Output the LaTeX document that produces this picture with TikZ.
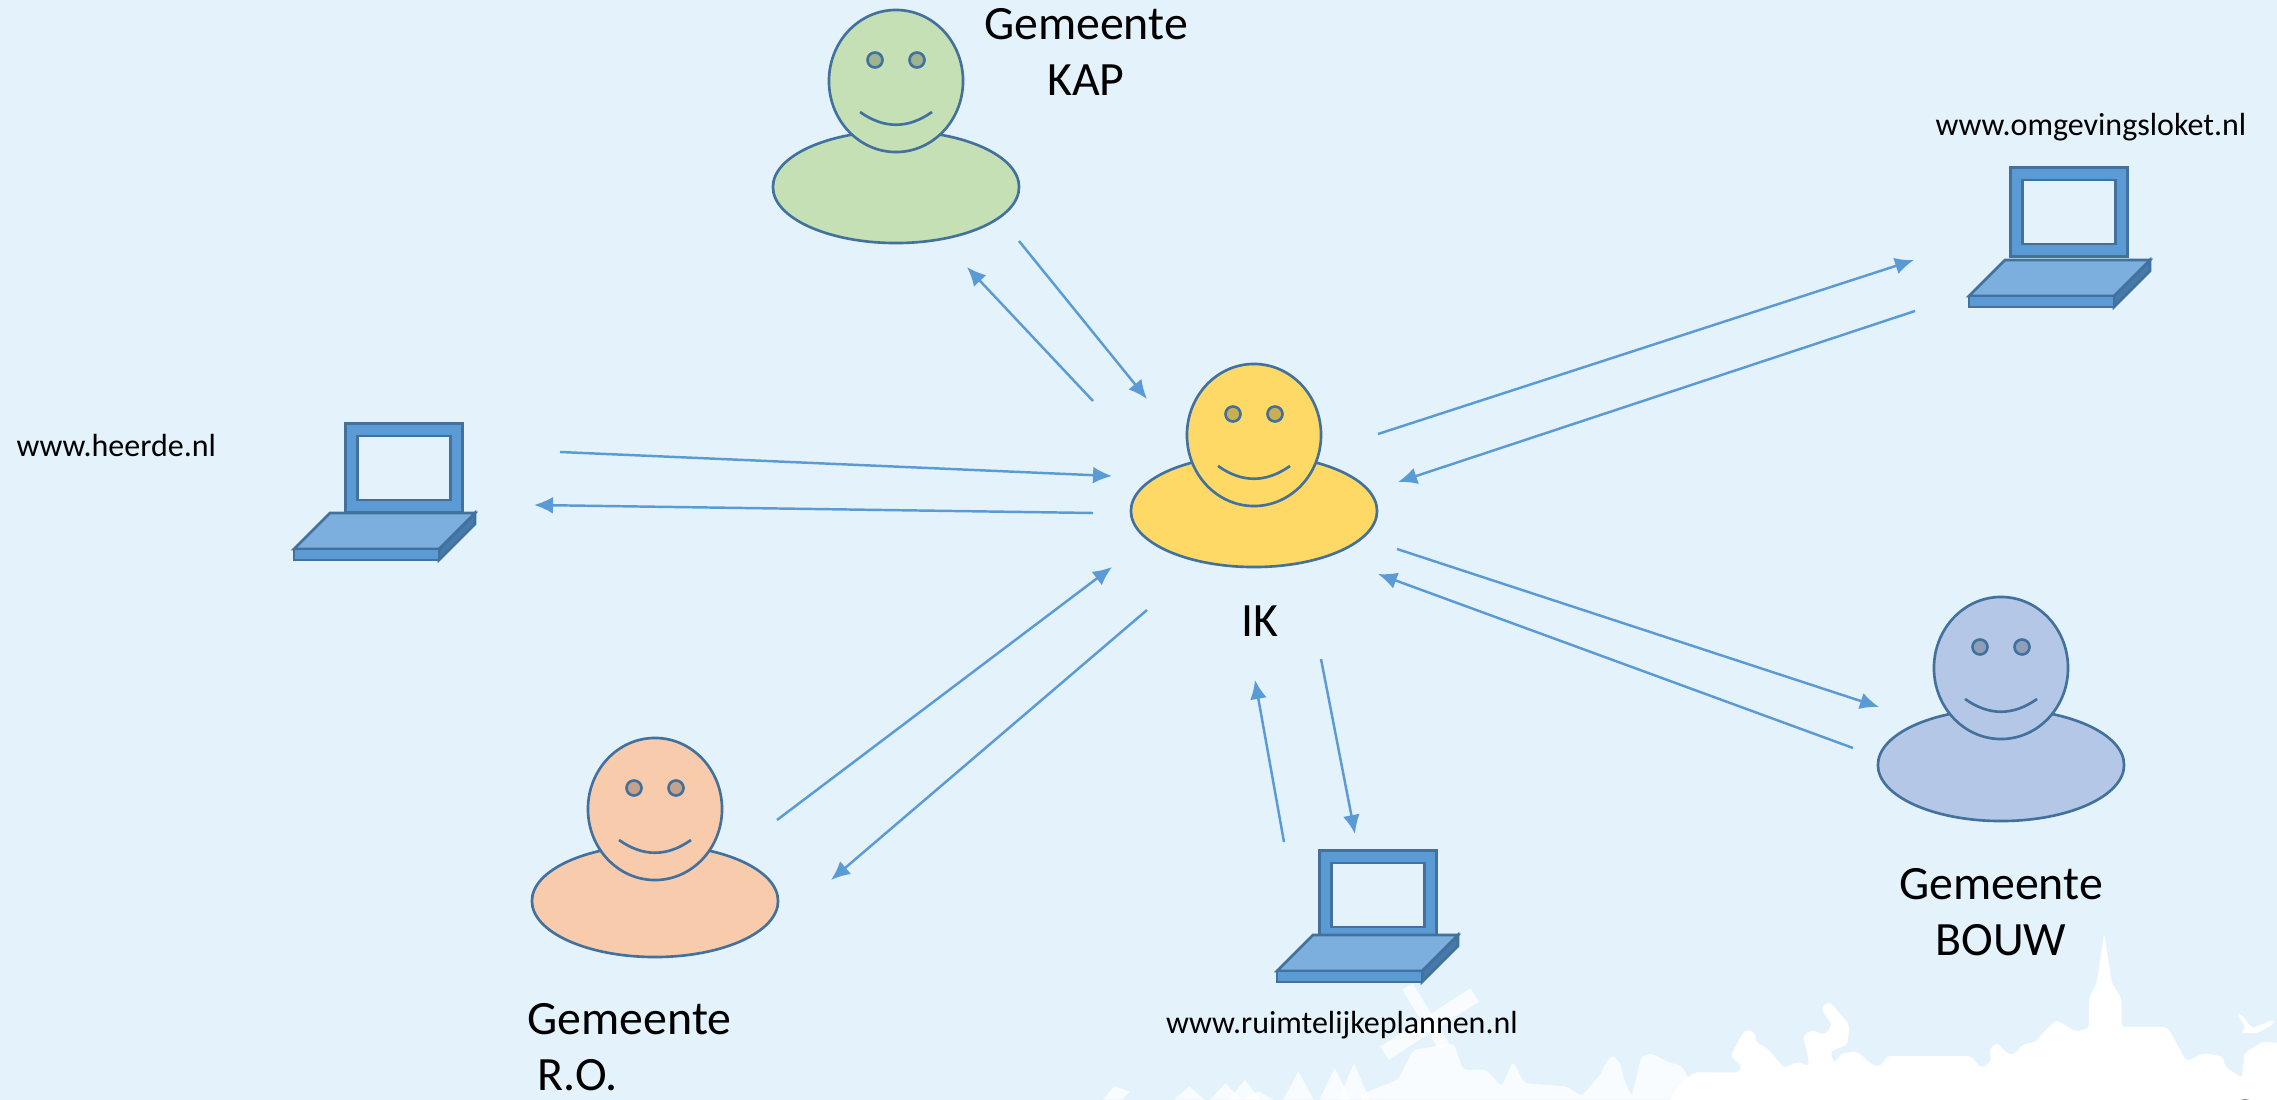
\documentclass[tikz,border=0pt]{standalone}
\usepackage{fontspec}
\setmainfont{Carlito}
\usetikzlibrary{arrows.meta,positioning,shapes.geometric}

\definecolor{achtergrond}{HTML}{E3F2FB}
\definecolor{lijn}{HTML}{41719C}
\definecolor{pijlblauw}{HTML}{5B9BD5}
\definecolor{toetsen}{HTML}{7CAFDE}
\definecolor{zijkant}{HTML}{477AAA}
\definecolor{geel}{HTML}{FFD966}
\definecolor{groen}{HTML}{C5E0B4}
\definecolor{oranje}{HTML}{F8CBAD}
\definecolor{paars}{HTML}{B4C7E7}

\tikzset{
    pijl/.style={-{Latex[length=5.4pt,width=4.8pt]},pijlblauw,line width=0.7pt},
    vorm/.style={draw=lijn,line width=0.75pt,inner sep=0pt},
    groot/.style={font=\fontsize{13.6}{16}\selectfont,align=center,inner sep=0pt},
    klein/.style={font=\fontsize{9.1}{11}\selectfont,inner sep=0pt}
}

% naam, middelpunt hoofd, kleur, afstand lijf
\newcommand{\persoon}[4]{
    \begin{scope}[shift={#2}]
        \node (#1lijf) [vorm,ellipse,fill=#3,minimum width=2.46cm,minimum height=1.12cm] at (0,#4) {};
        \node (#1hoofd) [vorm,ellipse,fill=#3,minimum width=1.34cm,minimum height=1.42cm] at (0,0) {};
        \node (#1oogL) [vorm,circle,fill=#3!80!black,minimum size=0.15cm] at (-21,-21) {};
        \node (#1oogR) [vorm,circle,fill=#3!80!black,minimum size=0.15cm] at (21,-21) {};
        \draw[lijn,line width=0.75pt] (-36,31) .. controls (-12,48) and (12,48) .. (36,31);
    \end{scope}
}

% naam, linksboven scherm, voorhoek toetsenbord
\newcommand{\laptop}[3]{
    \node (#1scherm) [vorm,rectangle,fill=pijlblauw,minimum width=1.17cm,minimum height=0.89cm,anchor=north west] at #2 {};
    \node (#1glas) [vorm,rectangle,fill=achtergrond,minimum width=0.93cm,minimum height=0.64cm] at (#1scherm.center) {};
    \begin{scope}[shift={#3}]
        \draw[vorm,fill=zijkant] (145,0) -- (181,-36) -- (181,-25) -- (145,11) -- cycle;
        \draw[vorm,fill=toetsen] (0,0) -- (36,-36) -- (181,-36) -- (145,0) -- cycle;
        \draw[vorm,fill=pijlblauw] (0,0) rectangle (145,11);
    \end{scope}
}

\begin{document}
\begin{tikzpicture}[x=0.01cm,y=-0.01cm]
    \useasboundingbox (0,0) rectangle (2277,1100);
    \clip (0,0) rectangle (2277,1100);
    \fill[achtergrond] (0,0) rectangle (2277,1100);

    % silhouet onderaan, rechts
    \begin{scope}[shift={(1677,940)},x=0.003827cm,y=-0.003333cm]
        \fill[white,rounded corners=1pt] (-30,500) -- (10,430) -- (45,398) -- (160,398) -- (170,380) -- (140,350) -- (168,285) -- (185,268) -- (205,280) -- (205,305) -- (240,330) -- (280,385) -- (315,365) -- (345,380) -- (340,340) -- (328,290) -- (350,270) -- (385,285) -- (405,255) -- (375,205) -- (395,185) -- (410,200) -- (450,255) -- (445,315) -- (400,335) -- (410,370) -- (430,340) -- (470,335) -- (510,375) -- (530,380) -- (550,348) -- (765,348) -- (795,385) -- (820,365) -- (815,330) -- (835,308) -- (860,340) -- (880,345) -- (900,315) -- (940,305) -- (945,290) -- (990,240) -- (1040,275) -- (1075,265) -- (1075,175) -- (1095,130) -- (1115,-20) -- (1135,130) -- (1160,175) -- (1160,262) -- (1280,262) -- (1330,365) -- (1375,340) -- (1425,350) -- (1430,380) -- (1475,415) -- (1480,340) -- (1530,305) -- (1580,310) -- (1580,500) -- cycle;
        \fill[white,rounded corners=1pt] (1460,220) -- (1475,225) -- (1500,265) -- (1555,240) -- (1560,250) -- (1515,280) -- (1470,280) -- (1485,265) -- cycle;
    \end{scope}

    % silhouet onderaan, molen en bomen
    \begin{scope}[shift={(1080,940)},x=0.003827cm,y=-0.003333cm,opacity=0.8]
        \draw[white,line width=4.5pt] (795,340) -- (1030,165);
        \draw[white,line width=3.5pt] (855,140) -- (950,320);
        \fill[white,rounded corners=1pt] (730,480) -- (740,460) -- (830,420) -- (870,330) -- (975,310) -- (1000,390) -- (1060,390) -- (1100,440) -- (1130,365) -- (1160,430) -- (1270,440) -- (1310,470) -- (1360,400) -- (1372,370) -- (1390,345) -- (1410,370) -- (1420,420) -- (1440,470) -- (1465,350) -- (1490,340) -- (1540,370) -- (1568,375) -- (1620,480) -- cycle;
        \foreach \boomx/\boomy in {570/395,665/385,715/370,430/420,380/430,285/440,465/455}
            \fill[white] (\boomx-40,480) -- (\boomx,\boomy) -- (\boomx+40,480) -- cycle;
        \fill[white] (60,480) -- (90,440) -- (130,455) -- (110,480) -- cycle;
    \end{scope}
    \fill[gray] (2245,1108) circle (9);

    \persoon{ik}{(1254,435)}{geel}{76}
    \persoon{kap}{(896,81)}{groen}{106}
    \persoon{ro}{(655,809)}{oranje}{92}
    \persoon{bouw}{(2001,668)}{paars}{97}

    \laptop{heerde}{(344,422)}{(294,549)}
    \laptop{loket}{(2009,166)}{(1969,296)}
    \laptop{plannen}{(1318,849)}{(1277,971)}

    \node (ikTekst) [groot] at (1260,621) {IK};
    \node (kapTekst) [groot] at (1086,52) {Gemeente\\KAP\hspace{0.55em}};
    \node (bouwTekst) [groot] at (2001,912) {Gemeente\\BOUW};
    \node (roTekst) [groot,align=left,anchor=south west] at (527,1092) {Gemeente\\\hspace{0.2em}R.O.};
    \node (heerdeTekst) [klein,anchor=west] at (16,446) {www.heerde.nl};
    \node (loketTekst) [klein] at (2091,127) {www.omgevingsloket.nl};
    \node (plannenTekst) [klein] at (1342,1025) {www.ruimtelijkeplannen.nl};

    \coordinate (a1) at (1019,241); \coordinate (b1) at (1147,399);
    \coordinate (a2) at (1093,401); \coordinate (b2) at (967,267);
    \coordinate (a3) at (560,452);  \coordinate (b3) at (1112,476);
    \coordinate (a4) at (1093,513); \coordinate (b4) at (534,505);
    \coordinate (a5) at (777,820);  \coordinate (b5) at (1112,567);
    \coordinate (a6) at (1147,610); \coordinate (b6) at (831,880);
    \coordinate (a7) at (1284,842); \coordinate (b7) at (1255,680);
    \coordinate (a8) at (1321,659); \coordinate (b8) at (1355,834);
    \coordinate (a9) at (1853,748); \coordinate (b9) at (1378,574);
    \coordinate (a10) at (1397,549); \coordinate (b10) at (1879,707);
    \coordinate (a11) at (1378,434); \coordinate (b11) at (1914,260);
    \coordinate (a12) at (1915,311); \coordinate (b12) at (1398,482);

    \foreach \i in {1,...,12}
        \draw[pijl] (a\i) -- (b\i);
\end{tikzpicture}
\end{document}
